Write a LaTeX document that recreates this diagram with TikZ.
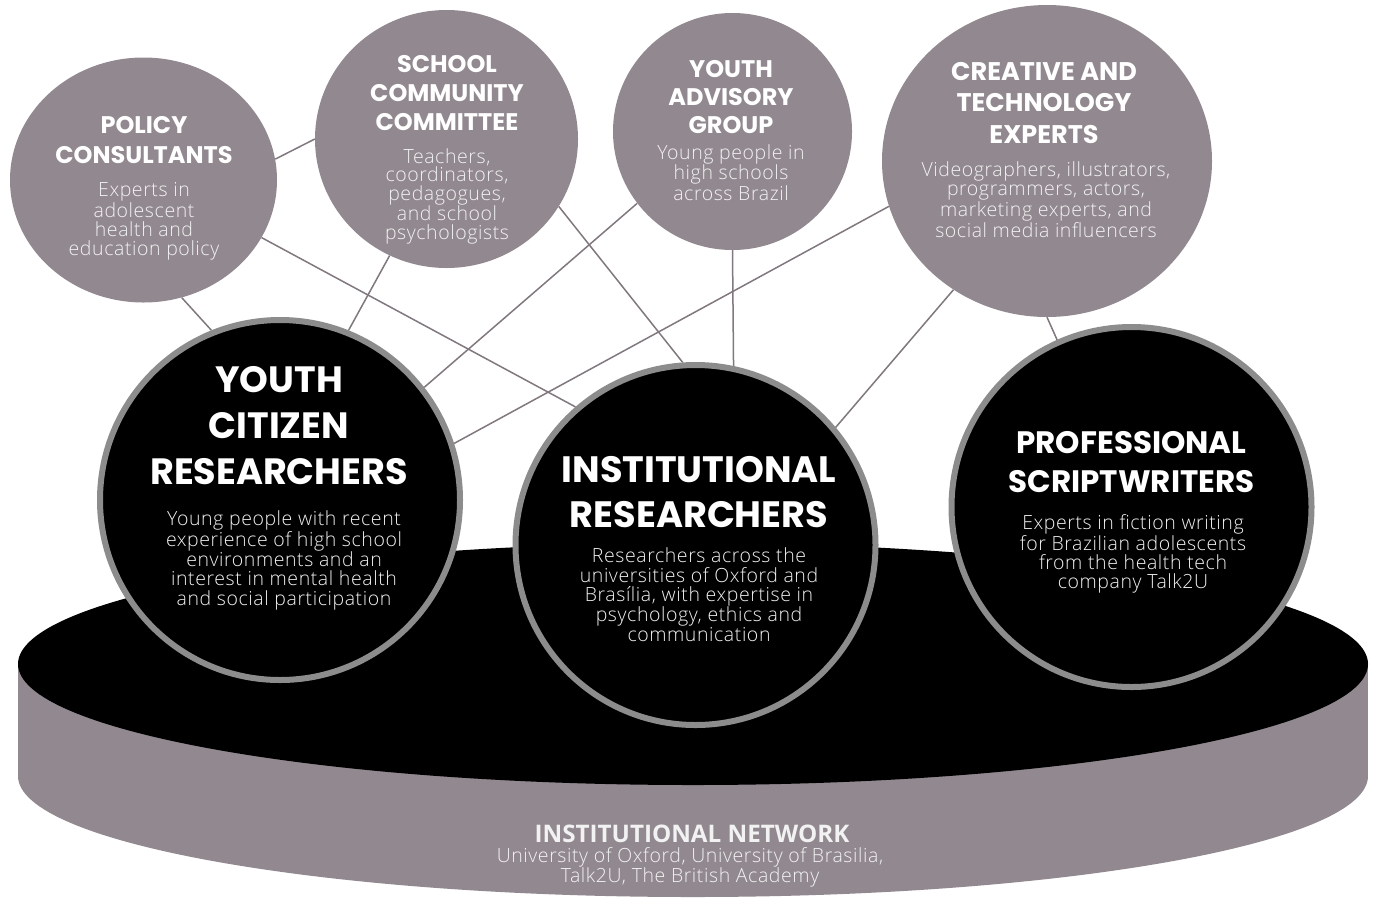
\documentclass[tikz,border=0pt]{standalone}
\usepackage{fontspec}
\usetikzlibrary{shapes.geometric}
\newfontfamily\headfont{Poppins}
\IfFontExistsTF{Open Sans Light}
  {\newfontfamily\bodyfont{Open Sans Light}[LetterSpace=3]}
  {\newfontfamily\bodyfont{Open Sans}[LetterSpace=3]}
\newfontfamily\netfont{Open Sans}
\definecolor{circgray}{RGB}{146,137,144}
\definecolor{ringgray}{RGB}{140,140,140}
\definecolor{linegray}{RGB}{128,120,126}
\definecolor{softwhite}{RGB}{242,242,242}
\newcommand\hdsize[2]{\headfont\bfseries\fontsize{#1}{#2}\selectfont}
\newcommand\bdsize[2]{\bodyfont\fontsize{#1}{#2}\selectfont}
\pgfdeclarelayer{back}
\pgfsetlayers{back,main}
\begin{document}
\begin{tikzpicture}[x=1pt,y=-1pt,
  grayball/.style={ellipse, fill=circgray, inner sep=0pt},
  blackball/.style={circle, fill=black, draw=ringgray, line width=6pt,
    minimum size=360pt, inner sep=0pt},
  hd/.style={anchor=base, align=center, text=white, inner sep=0pt},
  bd/.style={anchor=base, align=center, text=softwhite, inner sep=0pt},
  link/.style={draw=linegray, line width=1.5pt}]
\useasboundingbox (0,0) rectangle (1375,898);

% the platform: grey side band under a black elliptic top
\begin{pgfonlayer}{back}
  \fill[circgray] (693,776) ellipse [x radius=675, y radius=121];
  \fill[circgray] (18,664) rectangle (1368,776);
  \fill[black] (693,664) ellipse [x radius=675, y radius=121];
\end{pgfonlayer}

% advisory groups
\node[grayball, minimum width=267pt, minimum height=245pt] (pol) at (143.5,180) {};
\node[grayball, minimum width=263pt, minimum height=258pt] (sch) at (446.5,139) {};
\node[grayball, minimum width=239pt, minimum height=237pt] (ya) at (732.5,131.5) {};
\node[grayball, minimum width=330pt, minimum height=312pt] (cre) at (1047,161) {};

% core research teams
\node[blackball] (yc) at (280,500) {};
\node[blackball] (inst) at (695.5,545) {};
\node[blackball] (prof) at (1131.5,507) {};

% connections between groups and teams
\begin{pgfonlayer}{back}
  \draw[link] (pol.9.8) -- (sch.180.4);
  \draw[link] (pol.288.5) -- (yc.112.9);
  \draw[link] (pol.334.1) -- (inst.131.1);
  \draw[link] (sch.244.6) -- (yc.68.8);
  \draw[link] (sch.329.1) -- (inst.94.7);
  \draw[link] (ya.217.6) -- (yc.38.4);
  \draw[link] (ya.south) -- (inst.78.5);
  \draw[link] (cre.196.7) -- (yc.18.3);
  \draw[link] (cre.234.9) -- (inst.40.7);
  \draw[link] (cre.270) -- (prof.114);
\end{pgfonlayer}

% labels of the advisory groups (positioned by the baseline of their last line)
\node[hd, font={\hdsize{24}{30}}] (pol-h) at (144,163) {POLICY\\CONSULTANTS};
\node[bd, font={\bdsize{19.5}{19}}] (pol-b) at (144,255)
  {Experts in\\adolescent\\health and\\education policy};

\node[hd, font={\hdsize{24}{29}}] (sch-h) at (447,130) {SCHOOL\\COMMUNITY\\COMMITTEE};
\node[bd, font={\bdsize{19.5}{18.5}}] (sch-b) at (447,239)
  {Teachers,\\coordinators,\\pedagogues,\\and school\\psychologists};

\node[hd, font={\hdsize{24}{28}}] (ya-h) at (731,133) {YOUTH\\ADVISORY\\GROUP};
\node[bd, font={\bdsize{19.5}{18.5}}] (ya-b) at (731,200)
  {Young people in\\high schools\\across Brazil};

\node[hd, font={\hdsize{25.5}{31.5}}] (cre-h) at (1044,143) {CREATIVE AND\\TECHNOLOGY\\EXPERTS};
\node[bd, font={\bdsize{19.5}{19.3}}] (cre-b) at (1046,237)
  {Videographers, illustrators,\\programmers, actors,\\marketing experts, and\\social media influencers};

% labels of the research teams
\node[hd, font={\hdsize{36.6}{46}}] (yc-h) at (279,484) {YOUTH\\CITIZEN\\RESEARCHERS};
\node[bd, font={\bdsize{19.5}{19.5}}] (yc-b) at (284,605)
  {Young people with recent\\experience of high school\\environments and an\\interest in mental health\\and social participation};

\node[hd, font={\hdsize{36.7}{45}}] (inst-h) at (699,527) {INSTITUTIONAL\\RESEARCHERS};
\node[bd, font={\bdsize{19.5}{19.25}}] (inst-b) at (699,641)
  {Researchers across the\\universities of Oxford and\\Brasília, with expertise in\\psychology, ethics and\\communication};

\node[hd, font={\hdsize{31}{39}}] (prof-h) at (1131.5,492) {PROFESSIONAL\\SCRIPTWRITERS};
\node[bd, font={\bdsize{19.5}{19}}] (prof-b) at (1133,588)
  {Experts in fiction writing\\for Brazilian adolescents\\from the health tech\\company Talk2U};

% label of the platform
\node[hd, font={\netfont\bfseries\fontsize{24.2}{26}\selectfont}, text=softwhite] (net-h) at (692,842) {INSTITUTIONAL NETWORK};
\node[bd, font={\bdsize{19.5}{20}}] (net-b) at (690,882)
  {University of Oxford, University of Brasilia,\\Talk2U, The British Academy};
\end{tikzpicture}
\end{document}
